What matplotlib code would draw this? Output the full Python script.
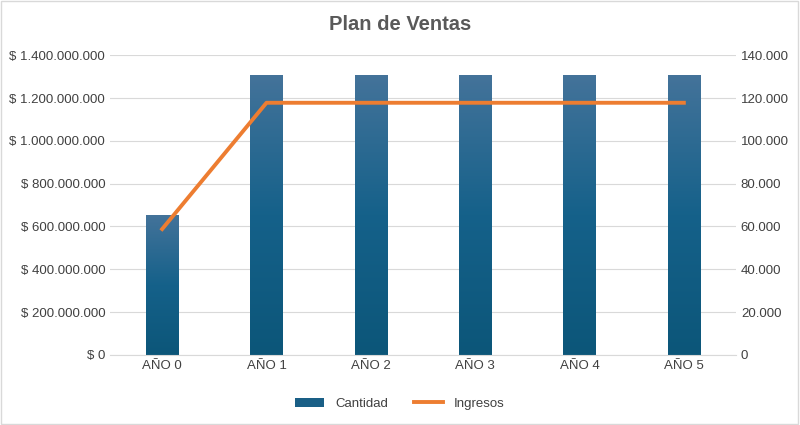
import matplotlib
matplotlib.use("Agg")
import matplotlib.pyplot as plt
import numpy as np
from matplotlib.ticker import FuncFormatter

categories = ["AÑO 0", "AÑO 1", "AÑO 2", "AÑO 3", "AÑO 4", "AÑO 5"]
cantidad = [655_000_000, 1_310_000_000, 1_310_000_000, 1_310_000_000, 1_310_000_000, 1_310_000_000]
ingresos = [58_800, 117_800, 117_800, 117_800, 117_800, 117_800]

plt.rcParams['font.family'] = ['Liberation Sans', 'DejaVu Sans']
fig = plt.figure(figsize=(8, 4.25), dpi=100)
ax = fig.add_axes([0.1375, 0.165, 0.7825, 0.705])
ax2 = ax.twinx()
x = np.arange(len(categories))
bars = ax.bar(x, cantidad, width=0.31, color="#1a5f86", zorder=2, label="Cantidad")
grad = np.linspace(0, 1, 256).reshape(-1, 1)
from matplotlib.colors import LinearSegmentedColormap
cmap = LinearSegmentedColormap.from_list("g", ["#0c5679", "#15618a", "#44739a"])
for b in bars:
    x0, y0, w, h = b.get_x(), b.get_y(), b.get_width(), b.get_height()
    im = ax.imshow(grad, extent=[x0, x0 + w, y0, y0 + h], origin="lower",
                   aspect="auto", cmap=cmap, zorder=2)
    im.set_clip_path(b)
ax.set_xlim(-0.5, 5.5)
ax.set_ylim(0, 1_400_000_000)
ax.set_yticks(np.arange(0, 1_400_000_001, 200_000_000))
ax.yaxis.set_major_formatter(FuncFormatter(lambda v, p: "$ " + f"{int(v):,}".replace(",", ".")))
ax.set_xticks(x)
ax.set_xticklabels(categories)
ax.grid(axis="y", color="#d9d9d9", lw=0.8, zorder=0)
ax2.plot(x, ingresos, color="#ed7d31", lw=2.8, zorder=3, label="Ingresos")
ax2.set_ylim(0, 140_000)
ax2.set_yticks(np.arange(0, 140_001, 20_000))
ax2.yaxis.set_major_formatter(FuncFormatter(lambda v, p: f"{int(v):,}".replace(",", ".")))
for a in (ax, ax2):
    for s in a.spines.values():
        s.set_visible(False)
    a.tick_params(length=0, labelsize=9.5, colors="#404040")
ax.spines["bottom"].set_visible(True)
ax.spines["bottom"].set_color("#d9d9d9")
ax.set_zorder(ax2.get_zorder() - 1) if False else None
fig.suptitle("Plan de Ventas", x=0.5, y=0.965, fontsize=14.5, fontweight="bold", color="#595959")
h1, l1 = ax.get_legend_handles_labels()
h2, l2 = ax2.get_legend_handles_labels()
fig.legend(h1 + h2, l1 + l2, loc="center", bbox_to_anchor=(0.5, 0.05), ncol=2,
           frameon=False, fontsize=9.5, labelcolor="#404040", handlelength=2.2)
fig.patches.append(plt.Rectangle((0.001, 0.002), 0.997, 0.995, transform=fig.transFigure,
                                 fill=False, ec="#d9d9d9", lw=1))
fig.savefig("out.png", dpi=100)
